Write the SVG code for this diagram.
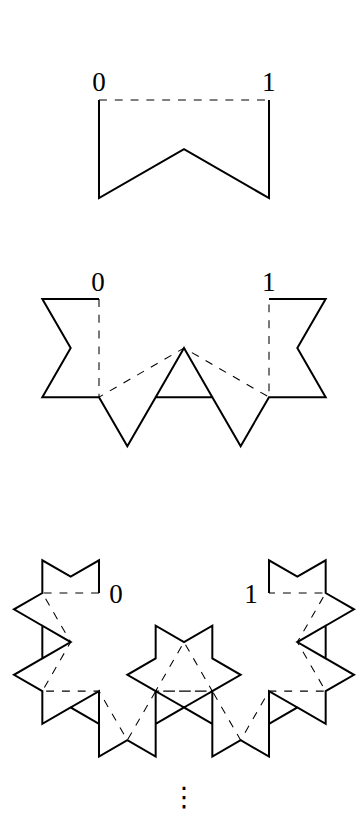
<svg xmlns="http://www.w3.org/2000/svg" width="358" height="821" viewBox="0 0 358 821">
<style>
.curve{fill:none;stroke:#000;stroke-width:2;stroke-linejoin:miter;stroke-miterlimit:10}
.dash{fill:none;stroke:#000;stroke-width:1.05;stroke-dasharray:7.9 7.9}
.lbl{font-family:"Liberation Serif","DejaVu Serif",serif;font-size:27px;fill:#000;text-anchor:middle}
.dots{font-family:"DejaVu Sans",sans-serif;font-size:27px;fill:#000;text-anchor:middle}
</style>
<rect width="358" height="821" fill="#fff"/>
<g id="stage1">
<polyline class="dash" points="99,100 269,100"/>
<polyline class="curve" points="99,100 99,198.14 184,149.07 269,198.14 269,100"/>
<text class="lbl" x="99" y="91">0</text>
<text class="lbl" x="268.7" y="90.5">1</text>
</g>
<g id="stage2">
<polyline class="dash" points="99,299 99,397.14 184,348.07 269,397.14 269,299"/>
<polyline class="curve" points="99,299 42.33,299 70.67,348.07 42.33,397.14 99,397.14 127.33,446.21 155.67,397.14 212.33,397.14 184,348.07 155.67,397.14 212.33,397.14 240.67,446.21 269,397.14 325.67,397.14 297.33,348.07 325.67,299 269,299"/>
<text class="lbl" x="98" y="290.5">0</text>
<text class="lbl" x="268.7" y="290.5">1</text>
</g>
<g id="stage3">
<polyline class="dash" points="99,593 42.33,593 70.67,642.07 42.33,691.14 99,691.14 127.33,740.21 155.67,691.14 212.33,691.14 184,642.07 155.67,691.14 212.33,691.14 240.67,740.21 269,691.14 325.67,691.14 297.33,642.07 325.67,593 269,593"/>
<polyline class="curve" points="99,593 99,560.29 70.67,576.64 42.33,560.29 42.33,593 14,609.36 42.33,625.71 42.33,658.43 70.67,642.07 42.33,625.71 42.33,658.43 14,674.79 42.33,691.14 42.33,723.86 70.67,707.5 99,723.86 99,691.14 70.67,707.5 99,723.86 99,756.57 127.33,740.21 155.67,756.57 155.67,723.86 184,707.5 155.67,691.14 155.67,723.86 184,707.5 212.33,723.86 212.33,691.14 240.67,674.79 212.33,658.43 212.33,625.71 184,642.07 155.67,625.71 155.67,658.43 127.33,674.79 155.67,691.14 155.67,723.86 184,707.5 212.33,723.86 212.33,691.14 184,707.5 212.33,723.86 212.33,756.57 240.67,740.21 269,756.57 269,723.86 297.33,707.5 269,691.14 269,723.86 297.33,707.5 325.67,723.86 325.67,691.14 354,674.79 325.67,658.43 325.67,625.71 297.33,642.07 325.67,658.43 325.67,625.71 354,609.36 325.67,593 325.67,560.29 297.33,576.64 269,560.29 269,593"/>
<text class="lbl" x="116" y="602.5">0</text>
<text class="lbl" x="251" y="602.5">1</text>
</g>
<text class="dots" x="184" y="806">⋮</text>
</svg>
